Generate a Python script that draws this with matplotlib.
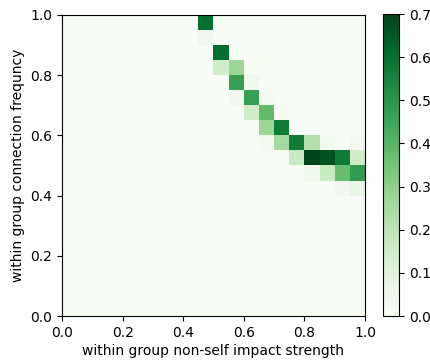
import numpy as np
import matplotlib
matplotlib.use("Agg")
import matplotlib.pyplot as plt

# Grid cells: (row from top, column from left, value) on a 20x20 grid
rows = [0, 1, 2, 3, 3, 4, 4, 5, 5, 5, 6, 6, 6, 7, 7,
        8, 8, 8, 8, 8, 8, 9, 9, 9, 9, 9, 10, 10, 10, 10, 11, 11]
cols = [9, 9, 10, 10, 11, 11, 12, 11, 12, 13, 12, 13, 14, 13, 14,
        13, 14, 15, 16, 17, 19, 15, 16, 17, 18, 19, 16, 17, 18, 19, 18, 19]
vals = [0.60, 0.04, 0.60, 0.15, 0.27, 0.47, 0.03, 0.03, 0.47, 0.01, 0.15, 0.38, 0.01, 0.27, 0.57,
        0.01, 0.25, 0.57, 0.22, 0.02, 0.02, 0.17, 0.70, 0.67, 0.57, 0.15, 0.03, 0.17, 0.37, 0.48, 0.03, 0.07]

n = 20
grid = np.zeros((n, n))
for r, c, v in zip(rows, cols, vals):
    grid[r, c] = v

fig = plt.figure(figsize=(4.3, 3.6), dpi=100)
ax = fig.add_axes([62/430, 44/360, 303/430, 301/360])
im = ax.imshow(grid, cmap="Greens", vmin=0, vmax=0.7, extent=[0, 1, 0, 1],
               origin="upper", aspect="auto", interpolation="nearest")
ax.set_xlabel("within group non-self impact strength", fontsize=10, labelpad=3)
ax.set_ylabel("within group connection frequncy", fontsize=10)
ax.set_xticks([0, 0.2, 0.4, 0.6, 0.8, 1.0])
ax.set_yticks([0, 0.2, 0.4, 0.6, 0.8, 1.0])
ax.tick_params(labelsize=10)
cax = fig.add_axes([383/430, 44/360, 16/430, 302/360])
cb = fig.colorbar(im, cax=cax)
cb.set_ticks([0, 0.1, 0.2, 0.3, 0.4, 0.5, 0.6, 0.7])
cb.ax.tick_params(labelsize=10)
fig.savefig("out.png", dpi=100)
